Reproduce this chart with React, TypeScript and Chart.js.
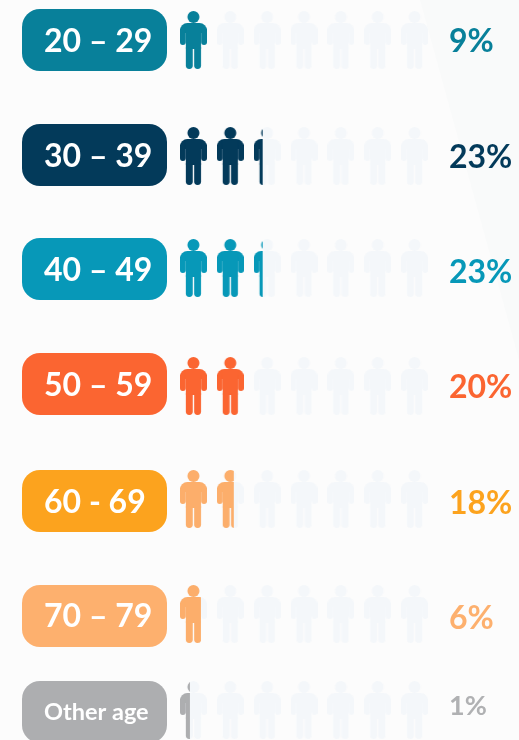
import React, { useEffect, useRef } from "react";
import { Chart, registerables } from "chart.js";

Chart.register(...registerables);

// ---- data ----
const ageGroups = ["20 – 29", "30 – 39", "40 – 49", "50 – 59", "60 - 69", "70 – 79", "Other age"];
const percentages = [9, 23, 23, 20, 18, 6, 1];
// how many person icons are filled on each row
const filledIcons = [1, 2.33, 2.33, 2, 1.63, 0.78, 0.37];
const iconSlots = [0, 1, 2, 3, 4, 5, 6];

// ---- styling ----
const pillColors = ["#08809a", "#033a5a", "#0798b8", "#fb6531", "#fca31e", "#fdb06e", "#adaeb0"];
const iconColors = ["#08809a", "#033a5a", "#0798b8", "#fb6531", "#fcae6b", "#fcae6b", "#adaeb0"];
const percentColors = ["#08809a", "#033a5a", "#0798b8", "#fb6531", "#fca31e", "#fdb06e", "#b0b1b3"];
const ghostColor = "#f4f7fa";

// ---- layout: rows are one ROW_PX apart, with small per-row nudges ----
const W = 519;
const H = 740;
const ROW_PX = 112;
const FIRST_ROW_PX = 40;
const iconNudge = [0, 4, 4, 10, 11, 14, -2];
const pillNudge = [0, 3, 5, 8, 13, 16, 0];
const labelNudge = [2, 5, 7, 10, 15, 17, 0];
const percentNudge = [2, 6, 9, 12, 16, 19, -6];
const rowAt = (i: number, nudge: number[]) => i + nudge[i] / ROW_PX;

function personIcon(color: string, fraction: number): HTMLCanvasElement {
  const c = document.createElement("canvas");
  c.width = 27;
  c.height = 58;
  const g = c.getContext("2d") as CanvasRenderingContext2D;
  g.beginPath();
  g.rect(0, 0, 27 * fraction, 58);
  g.clip();
  g.fillStyle = color;
  const shape = (x: number, y: number, w: number, h: number, r: number[]) => {
    g.beginPath();
    g.roundRect(x, y, w, h, r);
    g.fill();
  };
  g.beginPath();
  g.arc(13.5, 6, 6, 0, Math.PI * 2);
  g.fill();
  shape(0, 12, 27, 10, [7.5, 7.5, 0, 0]);
  shape(0, 18, 5.8, 16, [0, 0, 2.9, 2.9]);
  shape(21.2, 18, 5.8, 16, [0, 0, 2.9, 2.9]);
  shape(5.9, 13, 15.2, 25, [0, 0, 0, 0]);
  shape(5.9, 36, 6.9, 22, [0, 0, 3.4, 3.4]);
  shape(14.2, 36, 6.9, 22, [0, 0, 3.4, 3.4]);
  return c;
}

const pillPlugin = {
  id: "pills",
  beforeDraw(chart: any) {
    const { ctx, scales } = chart;
    ctx.save();
    ageGroups.forEach((_, i) => {
      const cy = scales.y.getPixelForValue(rowAt(i, pillNudge));
      ctx.beginPath();
      ctx.roundRect(22, cy - 31, 145, 62, 18);
      ctx.fillStyle = pillColors[i];
      ctx.fill();
    });
    ctx.restore();
  },
};

export default function App() {
  const ref = useRef<HTMLCanvasElement | null>(null);

  useEffect(() => {
    const ghostPoints = ageGroups.flatMap((_, r) =>
      iconSlots.map((x) => ({ x, y: rowAt(r, iconNudge) }))
    );
    const ghostIcon = personIcon(ghostColor, 1);
    const filledDatasets = ageGroups.map((name, r) => {
      const fill = filledIcons[r];
      const slots = iconSlots.filter((s) => s < fill);
      return {
        label: name,
        data: slots.map((x) => ({ x, y: rowAt(r, iconNudge) })),
        pointStyle: slots.map((s) => personIcon(iconColors[r], Math.min(1, fill - s))),
        pointRadius: 14,
        clip: false,
      };
    });

    const chart = new Chart(ref.current as HTMLCanvasElement, {
      type: "scatter",
      data: {
        datasets: [
          ...filledDatasets,
          {
            label: "All",
            data: ghostPoints,
            pointStyle: ghostIcon,
            pointRadius: 14,
            clip: false,
          },
        ] as any,
      },
      plugins: [pillPlugin],
      options: {
        responsive: false,
        animation: false,
        layout: { autoPadding: false, padding: { left: 44, right: 0, top: 0, bottom: 0 } },
        plugins: { legend: { display: false }, tooltip: { enabled: false } },
        scales: {
          x: { type: "linear", min: -0.5, max: 6.5, display: false },
          y: {
            type: "linear",
            position: "left",
            reverse: true,
            min: -FIRST_ROW_PX / ROW_PX,
            max: (H - FIRST_ROW_PX) / ROW_PX,
            grid: { display: false, drawTicks: false },
            border: { display: false },
            afterFit: (s: any) => {
              s.width = 131;
              s.paddingTop = 0;
              s.paddingBottom = 0;
            },
            afterBuildTicks: (s: any) => {
              s.ticks = ageGroups.map((_, i) => ({ value: rowAt(i, labelNudge) }));
            },
            afterTickToLabelConversion: (s: any) => {
              s.ticks.forEach((t: any, i: number) => { t.label = ageGroups[i]; });
            },
            ticks: {
              crossAlign: "far",
              autoSkip: false,
              padding: 0,
              color: "#ffffff",
              font: (c: any) => ({
                family: "Lato",
                weight: "bold",
                size: c.index === 6 ? 23.5 : 32,
              }),
            },
          },
          pct: {
            type: "linear",
            position: "right",
            reverse: true,
            min: -FIRST_ROW_PX / ROW_PX,
            max: (H - FIRST_ROW_PX) / ROW_PX,
            grid: { display: false, drawTicks: false },
            border: { display: false },
            afterFit: (s: any) => {
              s.width = 86;
              s.paddingTop = 0;
              s.paddingBottom = 0;
            },
            afterBuildTicks: (s: any) => {
              s.ticks = percentages.map((_, i) => ({ value: rowAt(i, percentNudge) }));
            },
            afterTickToLabelConversion: (s: any) => {
              s.ticks.forEach((t: any, i: number) => { t.label = percentages[i] + "%"; });
            },
            ticks: {
              crossAlign: "near",
              autoSkip: false,
              padding: 16,
              color: (c: any) => percentColors[c.index],
              font: (c: any) => ({
                family: "Lato",
                weight: "bold",
                size: c.index === 6 ? 27 : 32,
              }),
            },
          },
        },
      } as any,
    });
    return () => chart.destroy();
  }, []);

  return (
    <div
      style={{
        position: "absolute",
        left: 0,
        top: 0,
        width: W,
        height: H,
        overflow: "hidden",
        background: "#fcfcfc",
      }}
    >
      <div
        style={{
          position: "absolute",
          inset: 0,
          background: "#f9fafa",
          clipPath: "polygon(420px 0, 519px 0, 519px 360px)",
        }}
      />
      <canvas ref={ref} width={W} height={H} style={{ display: "block", position: "relative" }} />
    </div>
  );
}
